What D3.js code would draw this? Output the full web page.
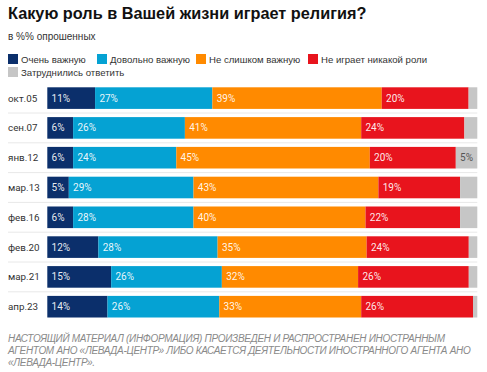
<!DOCTYPE html>
<html><head><meta charset="utf-8">
<script src="https://cdn.jsdelivr.net/npm/d3@7"></script>
<style>
html,body{margin:0;padding:0;background:#fff;}
svg{display:block;}
</style></head>
<body>
<script>
const categories = ["окт.05","сен.07","янв.12","мар.13","фев.16","фев.20","мар.21","апр.23"];
const seriesNames = ["Очень важную","Довольно важную","Не слишком важную","Не играет никакой роли","Затруднились ответить"];
const veryImportant = [11,6,6,5,6,12,15,14];
const fairlyImportant = [27,26,24,29,28,28,26,26];
const notVeryImportant = [39,41,45,43,40,35,32,33];
const noRole = [20,24,20,19,22,24,26,26];
const hardToSay = [2,3,5,4,4,2,2,1];
const colors = ["#0b2f6b","#05a2d3","#ff8a00","#e8141d","#c6c6c6"];
const title = "Какую роль в Вашей жизни играет религия?";
const subtitle = "в %% опрошенных";
const footer = ["НАСТОЯЩИЙ МАТЕРИАЛ (ИНФОРМАЦИЯ) ПРОИЗВЕДЕН И РАСПРОСТРАНЕН ИНОСТРАННЫМ",
  "АГЕНТОМ АНО «ЛЕВАДА-ЦЕНТР» ЛИБО КАСАЕТСЯ ДЕЯТЕЛЬНОСТИ ИНОСТРАННОГО АГЕНТА АНО",
  "«ЛЕВАДА-ЦЕНТР»."];

const W = 487, H = 372;
const svg = d3.select("body").append("svg").attr("width", W).attr("height", H);
const sans = "'Liberation Sans', Arial, Helvetica, sans-serif";
const rob = "Roboto, 'Liberation Sans', sans-serif";

svg.append("text").attr("x", 8).attr("y", 19.3).text(title)
  .attr("font-family", sans).attr("font-weight", "bold").attr("font-size", 16.3).attr("fill", "#111");
svg.append("text").attr("x", 8).attr("y", 39.5).text(subtitle)
  .attr("font-family", sans).attr("font-size", 10).attr("fill", "#333");

// legend
const legendPos = [[8,54],[97,54],[196,54],[308,54],[8,67]];
const lg = svg.append("g");
seriesNames.forEach((n,i) => {
  const [lx,ly] = legendPos[i];
  lg.append("rect").attr("x", lx).attr("y", ly).attr("width", 10).attr("height", 10).attr("fill", colors[i]);
  lg.append("text").attr("x", lx + 13).attr("y", ly + 8.5).text(n)
    .attr("font-family", sans).attr("font-size", 9.6).attr("fill", "#333");
});

// data table
const rows = categories.map((c,i) => {
  const vals = [veryImportant[i], fairlyImportant[i], notVeryImportant[i], noRole[i], hardToSay[i]];
  const total = d3.sum(vals);
  let acc = 0;
  const segs = vals.map((v,k) => { const s = {k, v, x0: acc/total, x1: (acc+v)/total}; acc += v; return s; });
  return {c, segs};
});

const x = d3.scaleLinear().domain([0,1]).range([47.3, 477.3]);
const y = d3.scaleBand().domain(categories).range([83.2, 321.6]).paddingInner(0.275).paddingOuter(0.1375);

// separators
svg.append("g").selectAll("line").data(categories.slice(1)).join("line")
  .attr("x1", 8).attr("x2", 477.3)
  .attr("y1", d => y(d) - y.step()*y.paddingInner()/2).attr("y2", d => y(d) - y.step()*y.paddingInner()/2)
  .attr("stroke", "#e8e8e8").attr("stroke-width", 1);

const rowG = svg.append("g").selectAll("g").data(rows).join("g")
  .attr("transform", d => `translate(0,${y(d.c)})`);

rowG.append("text").attr("x", 8).attr("y", y.bandwidth()/2 + 3.6).text(d => d.c)
  .attr("font-family", rob).attr("font-size", 9.8).attr("fill", "#333");

rowG.selectAll("rect").data(d => d.segs).join("rect")
  .attr("x", s => x(s.x0)).attr("width", s => x(s.x1) - x(s.x0))
  .attr("y", 0).attr("height", y.bandwidth()).attr("fill", s => colors[s.k]);

rowG.selectAll("text.lbl").data(d => d.segs.filter(s => s.v >= 5)).join("text")
  .attr("class", "lbl")
  .attr("x", s => x(s.x0) + 4.3).attr("y", y.bandwidth()/2 + 3.6)
  .text(s => s.v + "%")
  .attr("font-family", rob).attr("font-size", 10)
  .attr("fill", s => s.k === 4 ? "#555" : "#fff").attr("fill-opacity", s => s.k === 4 ? 1 : 0.92);

const fg = svg.append("g");
footer.forEach((t,i) => {
  fg.append("text").attr("x", 8).attr("y", 341.5 + i*12.3).text(t)
    .attr("font-family", sans).attr("font-style", "italic").attr("font-size", 10)
    .attr("letter-spacing", -0.3).attr("fill", "#8a8a8a");
});
</script>
</body></html>
